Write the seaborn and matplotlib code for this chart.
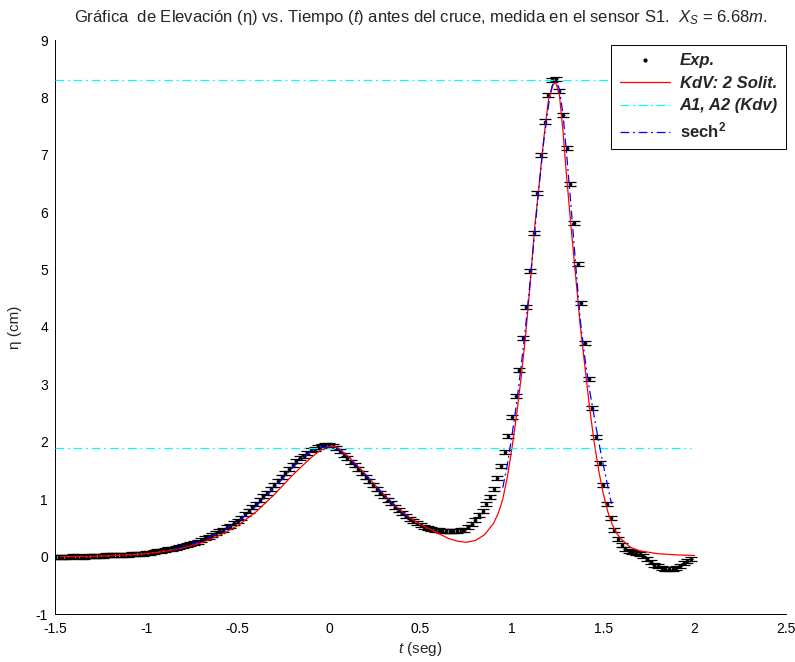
import numpy as np
import pandas as pd
import matplotlib
matplotlib.use("Agg")
import matplotlib.pyplot as plt
from matplotlib.lines import Line2D
import seaborn as sns

# ---------------- data ----------------
exp_t0, exp_dt = -1.5, 0.02
eta_exp = [
    0.00, 0.00, 0.00, 0.00, 0.00, 0.01, 0.01, 0.00, 0.00, 0.01,
    0.01, 0.01, 0.01, 0.01, 0.02, 0.02, 0.02, 0.02, 0.03, 0.03,
    0.035, 0.04, 0.04, 0.05, 0.05, 0.06, 0.07, 0.08, 0.09, 0.10,
    0.12, 0.13, 0.14, 0.15, 0.17, 0.18, 0.20, 0.22, 0.24, 0.26,
    0.29, 0.32, 0.35, 0.38, 0.41, 0.44, 0.47, 0.51, 0.54, 0.58,
    0.62, 0.68, 0.74, 0.80, 0.86, 0.92, 0.98, 1.05, 1.11, 1.18,
    1.25, 1.32, 1.39, 1.46, 1.53, 1.60, 1.66, 1.71, 1.76, 1.81,
    1.85, 1.88, 1.91, 1.93, 1.94, 1.94, 1.93, 1.89, 1.84, 1.77,
    1.71, 1.65, 1.59, 1.52, 1.45, 1.38, 1.31, 1.24, 1.17, 1.11,
    1.05, 0.99, 0.93, 0.87, 0.81, 0.76, 0.71, 0.66, 0.62, 0.58,
    0.55, 0.52, 0.50, 0.48, 0.47, 0.46, 0.45, 0.44, 0.44, 0.44,
    0.45, 0.46, 0.47, 0.51, 0.57, 0.63, 0.72, 0.80, 0.92, 1.03,
    1.18, 1.37, 1.58, 1.82, 2.10, 2.43, 2.80, 3.25, 3.80, 4.35,
    4.97, 5.64, 6.34, 6.99, 7.58, 8.05, 8.30, 8.32, 8.11, 7.70,
    7.12, 6.49, 5.81, 5.10, 4.42, 3.72, 3.10, 2.59, 2.08, 1.63,
    1.24, 0.92, 0.67, 0.47, 0.31, 0.20, 0.13, 0.10, 0.08, 0.07,
    0.05, 0.01, -0.05, -0.10, -0.14, -0.17, -0.20, -0.21, -0.21, -0.21,
    -0.20, -0.16, -0.11, -0.07, -0.04,
]
t_exp = np.round(exp_t0 + exp_dt * np.arange(len(eta_exp)), 3)
exp_err = 0.035

t_kdv = [-1.47, -1.3, -1.2, -1.1, -1.0, -0.9, -0.8, -0.7, -0.6, -0.5, -0.4,
         -0.3, -0.2, -0.1, -0.05, 0.0, 0.03, 0.05, 0.1, 0.15, 0.2, 0.25, 0.3,
         0.35, 0.4, 0.45, 0.5, 0.55, 0.6, 0.65, 0.7, 0.75, 0.8, 0.85, 0.9,
         0.925, 0.95, 0.975, 1.0, 1.025, 1.05, 1.075, 1.1, 1.125, 1.15, 1.175,
         1.2, 1.225, 1.24, 1.26, 1.28, 1.30, 1.325, 1.35, 1.375, 1.40, 1.425,
         1.45, 1.475, 1.50, 1.525, 1.55, 1.575, 1.6, 1.65, 1.7, 1.8, 1.9, 2.0]
eta_kdv = [0.0, 0.005, 0.015, 0.03, 0.05, 0.09, 0.15, 0.24, 0.37, 0.54, 0.78,
           1.08, 1.42, 1.72, 1.85, 1.92, 1.92, 1.89, 1.76, 1.60, 1.43, 1.25, 1.08,
           0.92, 0.78, 0.66, 0.56, 0.48, 0.40, 0.32, 0.27, 0.25, 0.28, 0.38, 0.58,
           0.75, 1.00, 1.38, 1.88, 2.45, 3.10, 3.85, 4.75, 5.75, 6.50, 7.30,
           7.95, 8.22, 8.26, 8.05, 7.40, 6.60, 5.70, 4.85, 4.00, 3.30, 2.60,
           2.00, 1.50, 1.10, 0.78, 0.55, 0.40, 0.30, 0.16, 0.10, 0.05, 0.03, 0.02]

t_sech1 = [-0.85, -0.8, -0.75, -0.7, -0.6, -0.5, -0.4, -0.3, -0.2, -0.15, -0.1,
           -0.05, 0.0, 0.05, 0.1, 0.15, 0.2, 0.25, 0.3, 0.35, 0.4, 0.44]
eta_sech1 = [0.13, 0.17, 0.22, 0.28, 0.42, 0.60, 0.88, 1.20, 1.55, 1.70, 1.83,
             1.90, 1.91, 1.86, 1.74, 1.58, 1.42, 1.25, 1.08, 0.92, 0.77, 0.66]
t_sech2 = [0.95, 0.975, 1.0, 1.025, 1.05, 1.075, 1.1, 1.125, 1.15, 1.175, 1.2,
           1.22, 1.24, 1.26, 1.28, 1.30, 1.325, 1.35, 1.375, 1.40, 1.425, 1.45,
           1.475, 1.5, 1.525, 1.545]
eta_sech2 = [1.2, 1.6, 2.1, 2.65, 3.3, 4.0, 4.8, 5.65, 6.5, 7.25, 7.85,
             8.2, 8.3, 8.15, 7.7, 7.0, 6.05, 5.05, 4.1, 3.45, 2.9, 2.45,
             2.0, 1.6, 1.22, 0.92]

amp_levels = [8.31, 1.89]
amp_t = [-1.5, 1.98]

legend_labels = ["Exp.", "KdV: 2 Solit.", "A1, A2 (Kdv)", r"sech$^{\mathbf{2}}$"]
xticks = [-1.5, -1, -0.5, 0, 0.5, 1, 1.5, 2, 2.5]
xticklabels = ["-1.5", "-1", "-0.5", "0", "0.5", "1", "1.5", "2", "2.5"]
yticks = [-1, 0, 1, 2, 3, 4, 5, 6, 7, 8, 9]
yticklabels = ["-1", "0", "1", "2", "3", "4", "5", "6", "7", "8", "9"]

# ---------------- style ----------------
sns.set_style("white")
plt.rcParams["font.family"] = ["Liberation Sans", "DejaVu Sans"]
plt.rcParams["mathtext.fontset"] = "custom"
plt.rcParams["mathtext.rm"] = "Liberation Sans"
plt.rcParams["mathtext.it"] = "Liberation Sans:italic"
plt.rcParams["mathtext.bf"] = "Liberation Sans:bold"

fig = plt.figure(figsize=(7.95, 6.62), dpi=100)
ax = fig.add_axes([55 / 795, 48 / 662, 731 / 795, 574 / 662])

dashdot = (0, (7, 3, 1.5, 3))

# experimental points with error bars
ax.errorbar(t_exp, eta_exp, yerr=exp_err, fmt="none", ecolor="black",
            elinewidth=0.7, capsize=4.0, capthick=0.9, zorder=2)
sns.scatterplot(x=t_exp, y=eta_exp, color="black", s=7, linewidth=0,
                ax=ax, zorder=3, legend=False)

# KdV curve
sns.lineplot(x=t_kdv, y=eta_kdv, color="red", linewidth=0.9, sort=False,
             estimator=None, ax=ax, zorder=4, legend=False)

# amplitude lines
for a in amp_levels:
    sns.lineplot(x=amp_t, y=[a, a], color="cyan", linewidth=0.9,
                 linestyle=dashdot, sort=False, estimator=None, ax=ax,
                 zorder=5, legend=False)

# sech^2 fits
for tt, ee in [(t_sech1, eta_sech1), (t_sech2, eta_sech2)]:
    sns.lineplot(x=tt, y=ee, color="blue", linewidth=0.9, linestyle=dashdot,
                 sort=False, estimator=None, ax=ax, zorder=6, legend=False)

ax.set_xlim(-1.5, 2.5)
ax.set_ylim(-1, 9)
ax.set_xticks(xticks)
ax.set_xticklabels(xticklabels)
ax.set_yticks(yticks)
ax.set_yticklabels(yticklabels)
ax.tick_params(direction="in", length=5, width=0.6, labelsize=10,
               colors="black")
ax.tick_params(axis="x", pad=6)
ax.tick_params(axis="y", pad=5)
for side in ["top", "right"]:
    ax.spines[side].set_visible(False)
for side in ["left", "bottom"]:
    ax.spines[side].set_color("black")
    ax.spines[side].set_linewidth(0.7)

ax.set_xlabel(r"$t$ (seg)", fontsize=11, labelpad=3)
ax.set_ylabel("η (cm)", fontsize=11, labelpad=10)
ax.set_title("Gráfica  de Elevación (η) vs. Tiempo ($t$) antes del cruce, "
             "medida en el sensor S1.  $X_S$ = 6.68$m$.", fontsize=12, pad=13)

handles = [
    Line2D([], [], color="black", marker=".", linestyle="none", markersize=4),
    Line2D([], [], color="red", linewidth=0.9),
    Line2D([], [], color="cyan", linewidth=0.9, linestyle=dashdot),
    Line2D([], [], color="blue", linewidth=0.9, linestyle=dashdot),
]
leg = ax.legend(handles, legend_labels, loc="upper right",
                bbox_to_anchor=(1.0, 0.991), borderaxespad=0,
                frameon=True, fancybox=False, framealpha=1, edgecolor="black",
                handlelength=3.0, handletextpad=0.6, labelspacing=0.45,
                borderpad=0.5,
                prop={"weight": "bold", "style": "italic", "size": 12})
leg.get_frame().set_linewidth(0.7)
leg.get_texts()[3].set_fontstyle("normal")
leg.set_zorder(10)

fig.savefig("out.png", dpi=100)
